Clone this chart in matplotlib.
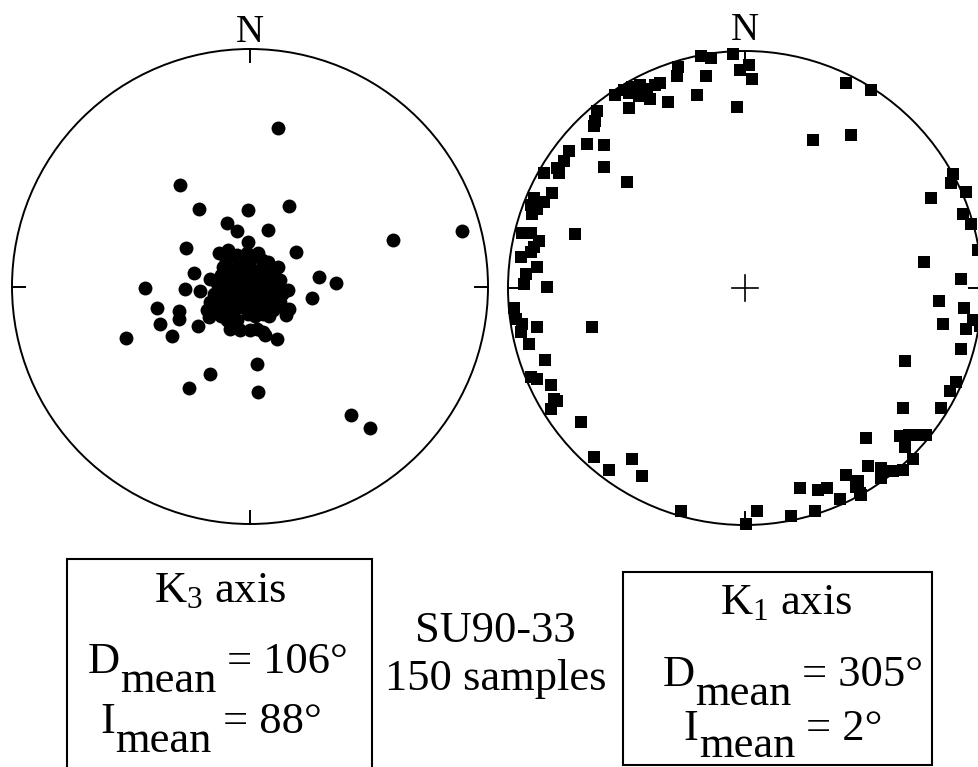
import matplotlib
matplotlib.use("Agg")
import matplotlib.pyplot as plt
from matplotlib.patches import Circle, Rectangle

plt.rcParams["font.family"] = ["Liberation Serif", "DejaVu Serif"]
plt.rcParams["mathtext.fontset"] = "custom"
plt.rcParams["mathtext.rm"] = "Liberation Serif"
plt.rcParams["mathtext.it"] = "Liberation Serif:italic"

# projected positions on the net (east, north), unit radius
# K3 axes (round dots)
k3_east = [0.119, -0.293, -0.216, -0.007, 0.165, -0.098, -0.056, 0.074, 0.600, 0.890,
           -0.007, -0.268, 0.195, -0.237, -0.167, -0.442, -0.275, -0.209, 0.289, 0.363,
           0.261, 0.160, -0.391, -0.300, -0.300, -0.379, -0.328, -0.219, -0.520, -0.174,
           0.165, 0.151, 0.112, 0.063, 0.028, -0.170, -0.258, 0.032, 0.425, 0.505,
           -0.132, -0.093, -0.056, -0.014, 0.035, 0.077, 0.119, -0.112, -0.070, -0.028,
           0.014, 0.056, 0.098, 0.126, -0.139, -0.098, -0.056, -0.014, 0.028, 0.070,
           0.112, -0.153, -0.112, -0.070, -0.028, 0.014, 0.056, 0.098, 0.133, -0.167,
           -0.126, -0.084, -0.042, 0.000, 0.042, 0.084, 0.126, -0.181, -0.132, -0.084,
           -0.007, 0.056, 0.098, -0.098, -0.056, -0.084, -0.042, 0.000, 0.028, 0.056,
           -0.070, 0.021, -0.021,
           -0.100, -0.050, 0.000, 0.050, -0.120, -0.080, -0.035, 0.000, 0.045, 0.090,
           -0.130, -0.085, -0.040, 0.000, 0.040, 0.085, 0.120, -0.140, -0.090, -0.050,
           -0.005, 0.035, 0.075, 0.115, -0.150, -0.105, -0.045, 0.045, 0.075, 0.110,
           -0.120, -0.075, 0.020, 0.080, -0.075]
k3_north = [0.667, 0.426, 0.327, 0.322, 0.339, 0.268, 0.235, 0.237, 0.194, 0.235,
            0.188, 0.161, 0.147, 0.055, 0.031, -0.006, -0.011, -0.018, 0.038, 0.013,
            -0.048, -0.013, -0.091, -0.103, -0.136, -0.157, -0.207, -0.167, -0.217, -0.129,
            -0.093, -0.118, -0.221, -0.204, -0.327, -0.370, -0.429, -0.443, -0.540, -0.596,
            0.140, 0.154, 0.133, 0.140, 0.140, 0.105, 0.084, 0.084, 0.069, 0.084,
            0.069, 0.069, 0.055, 0.027, 0.013, 0.027, 0.027, 0.027, 0.027, 0.027,
            0.013, -0.030, -0.016, -0.023, -0.016, -0.016, -0.023, -0.016, -0.030, -0.065,
            -0.058, -0.065, -0.065, -0.058, -0.065, -0.058, -0.065, -0.101, -0.101, -0.108,
            -0.115, -0.115, -0.101, -0.143, -0.143, -0.178, -0.185, -0.185, -0.178, -0.193,
            -0.079, -0.093, -0.086,
            0.110, 0.110, 0.110, 0.110, 0.050, 0.050, 0.050, 0.050, 0.050, 0.050,
            0.000, 0.000, 0.000, 0.000, 0.000, 0.000, 0.000, -0.045, -0.045, -0.045,
            -0.045, -0.045, -0.045, -0.045, -0.085, -0.085, -0.085, -0.085, -0.085, -0.085,
            -0.125, -0.125, -0.125, -0.125, -0.160]

# K1 axes (squares)
k1_east = [-0.187, -0.144, -0.052, 0.018, -0.021, 0.028, -0.164, -0.281, -0.285, -0.547,
           -0.512, -0.477, -0.442, -0.414, -0.379, -0.358, -0.400, -0.449, -0.491, -0.323,
           -0.203, -0.491, -0.035, -0.624, -0.631, -0.638, -0.666, -0.593, -0.743, -0.764,
           -0.792, -0.785, -0.849, -0.596, -0.498, -0.813, -0.891, -0.905, -0.877, -0.849,
           -0.898, -0.719, -0.940, -0.905, -0.870, -0.891, -0.947, -0.905, -0.877, -0.926,
           -0.933, -0.837, -0.975, -0.968, -0.940, -0.877, -0.947, -0.912, -0.645, -0.842,
           -0.905, -0.877, -0.820, -0.806, -0.820, -0.792, -0.694, -0.638, -0.575, -0.477,
           -0.435, -0.271, 0.004, 0.049, 0.196, 0.295, 0.231, 0.309, 0.344, 0.400,
           0.428, 0.477, 0.484, 0.470, 0.491, 0.519, 0.575, 0.575, 0.509, 0.624,
           0.666, 0.708, 0.652, 0.694, 0.729, 0.764, 0.673, 0.666, 0.673, 0.827,
           0.863, 0.891, 0.912, 0.834, 0.933, 0.961, 0.926, 0.820, 0.912, 0.757,
           0.785, 0.877, 0.870, 0.933, 0.919, 0.954, 0.288, 0.449, 0.428, 0.533,
           0.985, 0.990]
k1_north = [0.978, 0.971, 0.986, 0.939, 0.920, 0.880, 0.896, 0.931, 0.896, 0.815,
            0.834, 0.848, 0.858, 0.838, 0.855, 0.863, 0.797, 0.812, 0.823, 0.783,
            0.815, 0.761, 0.764, 0.747, 0.703, 0.685, 0.609, 0.602, 0.580, 0.537,
            0.508, 0.486, 0.486, 0.511, 0.447, 0.399, 0.378, 0.349, 0.334, 0.363,
            0.313, 0.229, 0.233, 0.233, 0.197, 0.175, 0.132, 0.153, 0.088, 0.059,
            0.016, 0.004, -0.085, -0.129, -0.151, -0.165, -0.187, -0.237, -0.165, -0.302,
            -0.375, -0.382, -0.411, -0.469, -0.512, -0.476, -0.567, -0.715, -0.768, -0.722,
            -0.795, -0.939, -0.997, -0.939, -0.961, -0.939, -0.845, -0.852, -0.845, -0.889,
            -0.787, -0.816, -0.867, -0.838, -0.874, -0.751, -0.758, -0.802, -0.635, -0.773,
            -0.768, -0.722, -0.624, -0.621, -0.621, -0.621, -0.671, -0.505, -0.310, -0.505,
            -0.433, -0.397, -0.259, -0.151, -0.172, -0.136, -0.085, -0.056, 0.038, 0.110,
            0.381, 0.479, 0.443, 0.407, 0.313, 0.269, 0.624, 0.645, 0.863, 0.834,
            0.160, -0.160]

W, H = 979, 767
fig = plt.figure(figsize=(W / 100, H / 100), dpi=100)


def px_axes(x0, y0, x1, y1):
    return fig.add_axes([x0 / W, 1 - y1 / H, (x1 - x0) / W, (y1 - y0) / H])


def draw_net(ax, n_y, cross=False):
    ax.set_xlim(-1, 1)
    ax.set_ylim(-1, 1)
    ax.axis("off")
    ax.add_patch(Circle((0, 0), 1, fill=False, lw=1.4, color="black", clip_on=False))
    t = 0.055
    for xs, ys in [([0, 0], [1, 1 - t]), ([0, 0], [-1, -1 + t]),
                   ([-1, -1 + t], [0, 0]), ([1, 1 - t], [0, 0])]:
        ax.plot(xs, ys, color="black", lw=1.4, clip_on=False)
    if cross:
        ax.plot([-t, t], [0, 0], color="black", lw=1.2)
        ax.plot([0, 0], [-t, t], color="black", lw=1.2)
    ax.text(0, n_y, "N", ha="center", va="baseline", fontsize=28)


ax1 = px_axes(12, 49, 488, 524)
draw_net(ax1, 1.03)
ax1.plot(k3_east, k3_north, "o", color="black", ms=10, mew=0, clip_on=False)

ax2 = px_axes(508, 51, 982, 525)
draw_net(ax2, 1.045, cross=True)
ax2.plot(k1_east, k1_north, "s", color="black", ms=9.2, mew=0, clip_on=False)


def box(x0, y0, x1, y1):
    fig.add_artist(Rectangle((x0 / W, 1 - y1 / H), (x1 - x0) / W, (y1 - y0) / H,
                             transform=fig.transFigure, fill=False, lw=1.5, color="black"))


def label(x, y, s):
    fig.text(x / W, 1 - y / H, s, ha="center", va="baseline", fontsize=32)


renderer = fig.canvas.get_renderer()


def sub_label(xc, y, main, sub, rest, drop=19, gap=11):
    # big subscript, the same size as the main text, set lower on the line
    parts = [(main, 0, 0), (sub, drop, gap), (rest, 0, 0)]
    items = []
    for s, dy, g in parts:
        t = fig.text(0, 0, s, ha="left", va="baseline", fontsize=32)
        items.append((t, dy, g, t.get_window_extent(renderer).width))
    total = sum(w + g for _, _, g, w in items)
    x = xc - total / 2
    for t, dy, g, w in items:
        t.set_position((x / W, 1 - (y + dy) / H))
        x += w + g


box(67, 559, 372, 775)
box(623, 572, 932, 765)

label(220, 602, r"K$_3$ axis")
sub_label(218, 673, "D", "mean", "= 106°")
sub_label(211, 733, "I", "mean", "= 88°")
label(495, 642, "SU90-33")
label(496, 690, "150 samples")
label(786, 614, r"K$_1$ axis")
sub_label(793, 686, "D", "mean", "= 305°")
sub_label(783, 740, "I", "mean", "= 2°", drop=17)

fig.savefig("out.png", dpi=100)
